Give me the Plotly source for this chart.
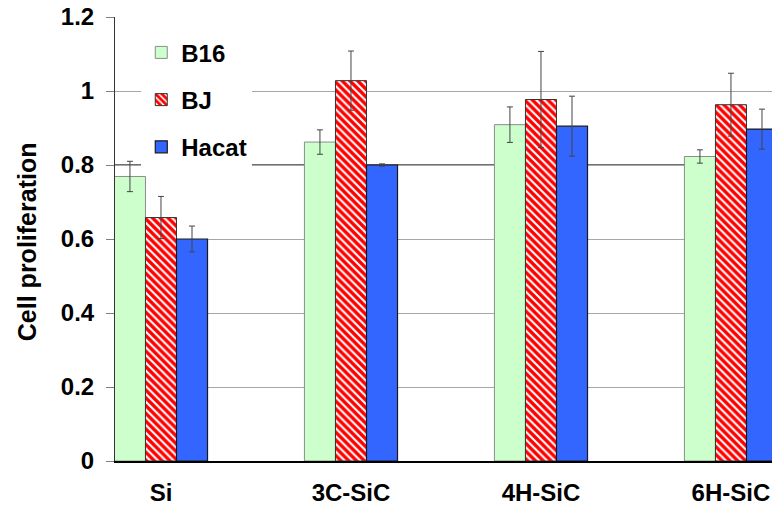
import plotly.graph_objects as go

categories = ["Si", "3C-SiC", "4H-SiC", "6H-SiC"]
series_names = ["B16", "BJ", "Hacat"]
b16_values = [0.769, 0.862, 0.909, 0.823]
b16_errors = [0.041, 0.033, 0.048, 0.018]
bj_values = [0.658, 1.028, 0.977, 0.963]
bj_errors = [0.057, 0.080, 0.130, 0.085]
hacat_values = [0.600, 0.800, 0.905, 0.897]
hacat_errors = [0.035, 0.003, 0.081, 0.054]
y_ticks = [0, 0.2, 0.4, 0.6, 0.8, 1.0, 1.2]
y_tick_labels = ["0", "0.2", "0.4", "0.6", "0.8", "1", "1.2"]

FONT = "Arial, 'Liberation Sans', sans-serif"

fig = go.Figure()

fig.add_trace(go.Bar(
    name=series_names[0], x=categories, y=b16_values,
    marker=dict(color="#CCFFCC", line=dict(color="#8c8c8c", width=1)),
    error_y=dict(type="data", array=b16_errors, color="#444444", thickness=1, width=3),
    legendgroup="a",
))
fig.add_trace(go.Bar(
    name=series_names[1], x=categories, y=bj_values,
    marker=dict(color="#FFFFFF", line=dict(color="#333333", width=1),
                pattern=dict(shape="\\", fgcolor="#FF0000", bgcolor="#FFFFFF",
                             fgopacity=1, size=5.5, solidity=0.62)),
    error_y=dict(type="data", array=bj_errors, color="#444444", thickness=1, width=3),
    legendgroup="b",
))
fig.add_trace(go.Bar(
    name=series_names[2], x=categories, y=hacat_values,
    marker=dict(color="#3366FF", line=dict(color="#1a1a1a", width=1.2)),
    error_y=dict(type="data", array=hacat_errors, color="#444444", thickness=1, width=3),
    legendgroup="c",
))

# darker reference line at 0.8
fig.add_shape(type="line", xref="paper", yref="y", x0=0, x1=1, y0=0.8, y1=0.8,
              line=dict(color="#404040", width=1.5), layer="below")

fig.add_annotation(
    text="Cell proliferation", textangle=-90, xref="paper", yref="paper",
    x=-0.134, y=0.495, xanchor="center", yanchor="middle", showarrow=False,
    font=dict(family=FONT, size=25, color="#000000", weight="bold"),
)

fig.update_layout(
    width=772, height=508,
    margin=dict(l=115, r=0, t=17, b=47),
    paper_bgcolor="#FFFFFF", plot_bgcolor="#FFFFFF",
    barmode="group", bargap=0.51, bargroupgap=0,
    font=dict(family=FONT, color="#000000"),
    showlegend=True,
    legend=dict(
        x=0.04, y=0.97, xanchor="left", yanchor="top",
        bgcolor="#FFFFFF", borderwidth=0,
        font=dict(family=FONT, size=24, color="#000000", weight="bold"),
        traceorder="grouped", tracegroupgap=13, itemwidth=30,
    ),
    xaxis=dict(
        range=[-0.242, 3.216], showgrid=False, showline=True,
        linecolor="#000000", linewidth=1.5, ticks="", zeroline=False,
        tickfont=dict(family=FONT, size=24, color="#000000", weight="bold"),
        ticklabelstandoff=9, automargin=False,
    ),
    yaxis=dict(
        range=[0, 1.2], tickvals=y_ticks, ticktext=y_tick_labels,
        showgrid=True, gridcolor="#a6a6a6", gridwidth=1,
        showline=True, linecolor="#333333", linewidth=1,
        ticks="outside", ticklen=8, tickcolor="#808080",
        zeroline=False, automargin=False,
        tickfont=dict(family=FONT, size=24, color="#000000", weight="bold"),
        ticklabelstandoff=7,
    ),
)

fig.write_html("out.html", config={"displayModeBar": False},
               post_script="document.body.style.margin='0';")
